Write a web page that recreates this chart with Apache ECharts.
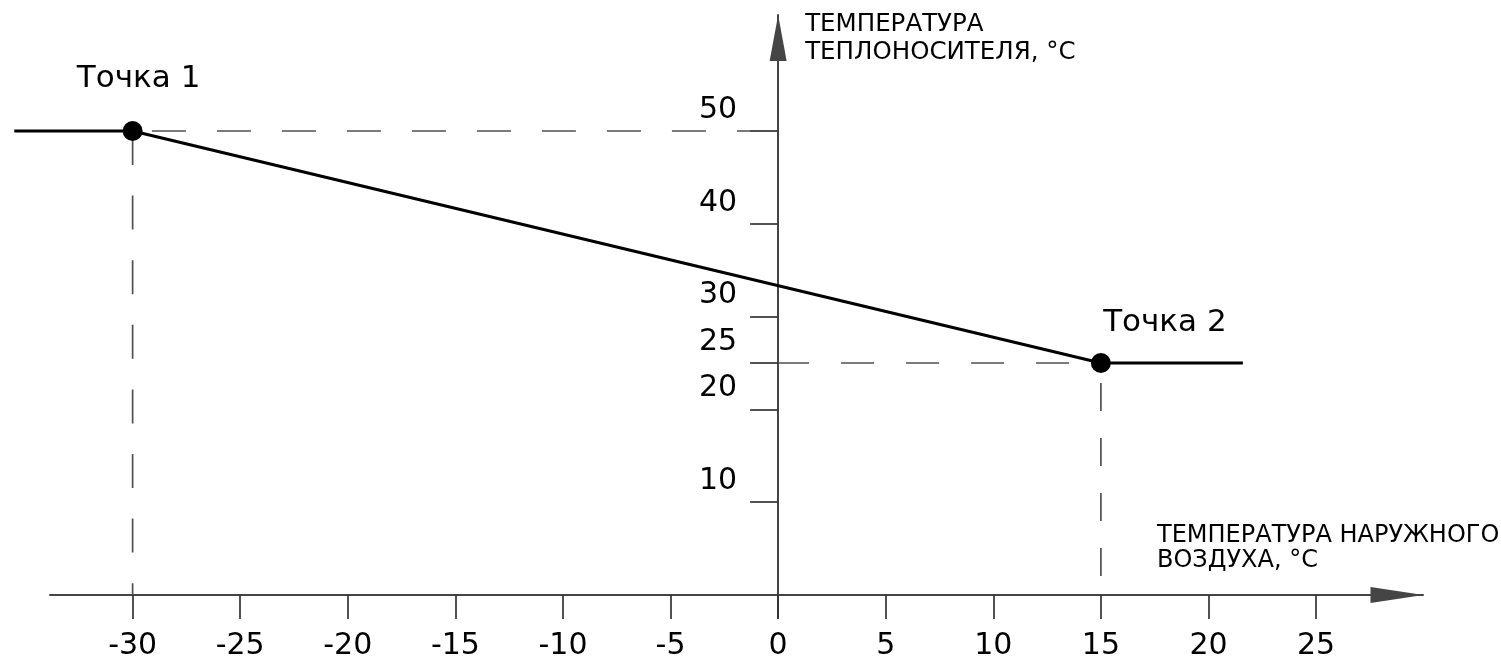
<!DOCTYPE html>
<html>
<head>
<meta charset="utf-8">
<script src="https://cdn.jsdelivr.net/npm/echarts@6/dist/echarts.min.js"></script>
<style>
html,body{margin:0;padding:0;background:#fff;}
#chart{width:1501px;height:660px;}
</style>
</head>
<body>
<div id="chart"></div>
<script>
// ---- data ----
const xTickValues = [-30, -25, -20, -15, -10, -5, 0, 5, 10, 15, 20, 25];
const yTickValues = [10, 20, 25, 30, 40, 50];
const curveX = [-35.5, -30, 15, 21.6];
const curveY = [50, 50, 25, 25];
const pointNames = ['Точка 1', 'Точка 2'];
const pointX = [-30, 15];
const pointY = [50, 25];
const xAxisTitle = 'ТЕМПЕРАТУРА НАРУЖНОГО\nВОЗДУХА, °C';
const yAxisTitle = 'ТЕМПЕРАТУРА\nТЕПЛОНОСИТЕЛЯ, °C';
const xRange = [-33.84, 29.97];
const yRange = [-2.48, 62.5];

// ---- styles / layout ----
const FONT = 'DejaVu Sans';
const AXIS_COLOR = '#454545';
const GUIDE_COLOR = '#505050';
const labelOffsets = [[6, -52], [64, -40]];
const W = 1501, H = 660;
const GRID = {left: 50, right: 78, top: 15, bottom: 42};
const PLOT_W = W - GRID.left - GRID.right;
const PLOT_H = H - GRID.top - GRID.bottom;
const PX_PER_X = PLOT_W / (xRange[1] - xRange[0]);
// wider drawing grid (same scale) so the curve can run past the visible axis start
const WIDE_LEFT = 0;
const wideXMin = xRange[0] - (GRID.left - WIDE_LEFT) / PX_PER_X;
// axes cross at the origin: shift each axis from the grid edge to the zero line
const xAxisOffset = -PLOT_H * (0 - yRange[0]) / (yRange[1] - yRange[0]);
const yAxisOffset = -PLOT_W * (0 - xRange[0]) / (xRange[1] - xRange[0]);

const chart = echarts.init(document.getElementById('chart'), null, {renderer: 'canvas'});

const curveData = curveX.map((x, i) => [x, curveY[i]]);
const pointData = pointX.map((x, i) => ({
  name: pointNames[i],
  value: [x, pointY[i]],
  label: {offset: labelOffsets[i]}
}));

// dashed guide lines from each point to both axes
const guides = [
  {data: [[pointX[0], pointY[0]], [0, pointY[0]]], dash: [34, 31], offset: 45.7},
  {data: [[0, pointY[1]], [pointX[1], pointY[1]]], dash: [33, 32], offset: 2},
  {data: [[pointX[0], pointY[0]], [pointX[0], 0]], dash: [34, 30.6], offset: 0},
  {data: [[pointX[1], pointY[1]], [pointX[1], 0]], dash: [28, 27], offset: 35}
];

const guideSeries = guides.map(g => ({
  type: 'line',
  data: g.data,
  symbol: 'none',
  silent: true,
  clip: false,
  z: 1,
  lineStyle: {color: GUIDE_COLOR, width: 1.7, type: g.dash, dashOffset: g.offset}
}));

const option = {
  animation: false,
  backgroundColor: '#ffffff',
  grid: [
    Object.assign({containLabel: false, outerBoundsMode: 'none'}, GRID),
    {left: WIDE_LEFT, right: GRID.right, top: GRID.top, bottom: GRID.bottom, containLabel: false, outerBoundsMode: 'none'}
  ],
  xAxis: [{
    type: 'value',
    gridIndex: 0,
    min: xRange[0],
    max: xRange[1],
    position: 'bottom',
    offset: xAxisOffset,
    name: xAxisTitle,
    nameLocation: 'end',
    nameGap: -266,
    nameTextStyle: {
      fontFamily: FONT, fontSize: 24, color: '#000', align: 'left', verticalAlign: 'bottom',
      lineHeight: 25, padding: [0, 0, 22, 0]
    },
    axisLine: {
      onZero: false,
      symbol: ['none', 'triangle'],
      symbolSize: [16, 53],
      symbolOffset: [0, -26],
      lineStyle: {color: AXIS_COLOR, width: 2}
    },
    axisTick: {show: true, customValues: xTickValues, length: 24, lineStyle: {color: '#333', width: 1.7}},
    axisLabel: {customValues: xTickValues, fontFamily: FONT, fontSize: 30, color: '#000', margin: 36},
    splitLine: {show: false}
  }, {
    type: 'value',
    gridIndex: 1,
    min: wideXMin,
    max: xRange[1],
    show: false
  }],
  yAxis: [{
    type: 'value',
    gridIndex: 0,
    min: yRange[0],
    max: yRange[1],
    position: 'left',
    offset: yAxisOffset,
    name: yAxisTitle,
    nameLocation: 'end',
    nameGap: 4,
    nameTextStyle: {
      fontFamily: FONT, fontSize: 24.5, color: '#000', align: 'left', verticalAlign: 'top',
      lineHeight: 28, padding: [0, 0, 0, 27]
    },
    axisLine: {
      onZero: false,
      symbol: ['none', 'triangle'],
      symbolSize: [17, 46],
      symbolOffset: [0, -23],
      lineStyle: {color: AXIS_COLOR, width: 2}
    },
    axisTick: {show: true, customValues: yTickValues, length: 28, lineStyle: {color: '#333', width: 1.7}},
    axisLabel: {
      customValues: yTickValues, fontFamily: FONT, fontSize: 30, color: '#000', margin: 41,
      verticalAlign: 'bottom', lineHeight: 42
    },
    splitLine: {show: false}
  }, {
    type: 'value',
    gridIndex: 1,
    min: yRange[0],
    max: yRange[1],
    show: false
  }],
  series: guideSeries.concat([
    {
      type: 'line',
      xAxisIndex: 1,
      yAxisIndex: 1,
      data: curveData,
      symbol: 'none',
      clip: false,
      z: 3,
      lineStyle: {color: '#000', width: 3}
    },
    {
      type: 'scatter',
      data: pointData,
      symbol: 'circle',
      symbolSize: 20,
      clip: false,
      z: 4,
      itemStyle: {color: '#000', opacity: 1},
      label: {
        show: true,
        position: 'inside',
        formatter: '{b}',
        fontFamily: FONT,
        fontSize: 31,
        color: '#000',
        opacity: 1
      }
    }
  ])
};

chart.setOption(option);
</script>
</body>
</html>
